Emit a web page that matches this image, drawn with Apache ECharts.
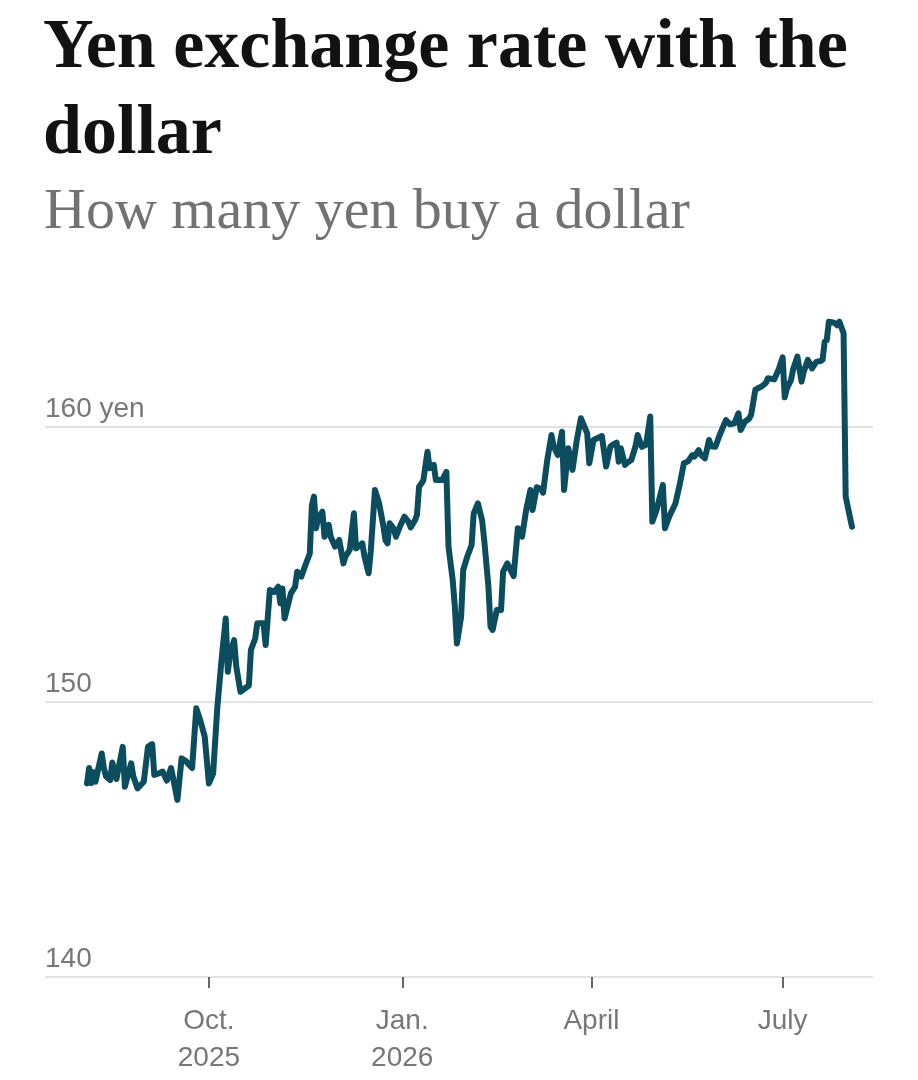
<!DOCTYPE html>
<html>
<head>
<meta charset="utf-8">
<script src="https://cdn.jsdelivr.net/npm/echarts@6/dist/echarts.min.js"></script>
<style>
  html, body { margin: 0; padding: 0; background: #ffffff; }
  #chart { width: 918px; height: 1080px; }
</style>
</head>
<body>
<div id="chart"></div>
<script>
const titleText = 'Yen exchange rate with the\ndollar';
const subtitleText = 'How many yen buy a dollar';

const dates = [
  '2025-08-04','2025-08-05','2025-08-06','2025-08-07','2025-08-08','2025-08-11','2025-08-12','2025-08-13',
  '2025-08-15','2025-08-16','2025-08-18','2025-08-21','2025-08-22','2025-08-25','2025-08-26','2025-08-28',
  '2025-08-31','2025-09-02','2025-09-04','2025-09-05','2025-09-07','2025-09-09','2025-09-11','2025-09-13',
  '2025-09-16','2025-09-18','2025-09-20','2025-09-23','2025-09-25','2025-09-27','2025-09-29','2025-10-01',
  '2025-10-03','2025-10-05','2025-10-07','2025-10-09','2025-10-10','2025-10-11','2025-10-13','2025-10-14',
  '2025-10-16','2025-10-20','2025-10-21','2025-10-23','2025-10-24','2025-10-26','2025-10-27','2025-10-28',
  '2025-10-30','2025-11-01','2025-11-03','2025-11-04','2025-11-05','2025-11-06','2025-11-09','2025-11-11',
  '2025-11-12','2025-11-14','2025-11-16','2025-11-18','2025-11-19','2025-11-20','2025-11-21','2025-11-22',
  '2025-11-24','2025-11-25','2025-11-27','2025-11-28','2025-11-30','2025-12-02','2025-12-04','2025-12-05',
  '2025-12-07','2025-12-09','2025-12-10','2025-12-13','2025-12-14','2025-12-16','2025-12-17','2025-12-19',
  '2025-12-21','2025-12-23','2025-12-24','2025-12-25','2025-12-26','2025-12-28','2025-12-29','2025-12-31',
  '2026-01-02','2026-01-04','2026-01-05','2026-01-07','2026-01-08','2026-01-09','2026-01-11','2026-01-13',
  '2026-01-14','2026-01-16','2026-01-17','2026-01-18','2026-01-20','2026-01-22','2026-01-23','2026-01-25',
  '2026-01-26','2026-01-27','2026-01-29','2026-01-30','2026-02-01','2026-02-03','2026-02-04','2026-02-06',
  '2026-02-08','2026-02-09','2026-02-11','2026-02-12','2026-02-13','2026-02-15','2026-02-17','2026-02-18',
  '2026-02-20','2026-02-23','2026-02-25','2026-02-27','2026-03-01','2026-03-03','2026-03-04','2026-03-06',
  '2026-03-08','2026-03-09','2026-03-11','2026-03-13','2026-03-14','2026-03-16','2026-03-18','2026-03-19',
  '2026-03-21','2026-03-23','2026-03-25','2026-03-27','2026-03-30','2026-03-31','2026-04-02','2026-04-04',
  '2026-04-06','2026-04-08','2026-04-10','2026-04-11','2026-04-13','2026-04-14','2026-04-15','2026-04-17',
  '2026-04-18','2026-04-20','2026-04-22','2026-04-23','2026-04-25','2026-04-27','2026-04-29','2026-04-30',
  '2026-05-02','2026-05-05','2026-05-06','2026-05-08','2026-05-11','2026-05-13','2026-05-15','2026-05-17',
  '2026-05-19','2026-05-20','2026-05-22','2026-05-23','2026-05-25','2026-05-27','2026-05-28','2026-05-30',
  '2026-06-01','2026-06-04','2026-06-06','2026-06-08','2026-06-10','2026-06-11','2026-06-13','2026-06-15',
  '2026-06-16','2026-06-18','2026-06-19','2026-06-21','2026-06-23','2026-06-24','2026-06-26','2026-06-27',
  '2026-06-29','2026-07-01','2026-07-02','2026-07-03','2026-07-05','2026-07-06','2026-07-08','2026-07-10',
  '2026-07-11','2026-07-13','2026-07-14','2026-07-15','2026-07-17','2026-07-19','2026-07-20','2026-07-21',
  '2026-07-22','2026-07-23','2026-07-25','2026-07-26','2026-07-27','2026-07-28','2026-07-30','2026-07-31',
  '2026-08-03'
];

const yen = [
  147.04,147.6,147.05,147.45,147.1,148.13,147.6,147.3,
  147.16,147.8,147.2,148.37,146.92,147.77,147.3,146.86,
  147.1,148.37,148.47,147.35,147.4,147.47,147.14,147.6,
  146.44,147.95,147.85,147.6,149.77,149.3,148.74,147.04,
  147.4,149.8,151.53,153.04,151.1,151.7,152.25,151.3,
  150.37,150.6,151.9,152.3,152.86,152.86,152.86,152.07,
  154.07,154.0,154.19,153.59,154.13,153.04,153.95,154.19,
  154.74,154.56,155.0,155.4,157.16,157.47,156.32,156.7,
  156.92,156.01,156.44,156.0,155.65,155.89,155.04,155.3,
  155.53,156.86,155.59,155.77,155.3,154.68,155.47,157.71,
  157.22,156.4,155.89,155.77,156.5,156.3,156.01,156.4,
  156.74,156.55,156.35,156.6,156.8,157.83,158.05,159.1,
  158.5,158.62,158.07,158.07,158.07,158.37,155.65,154.44,
  153.5,152.13,153.1,154.8,155.3,155.71,156.86,157.22,
  156.6,155.89,154.2,152.74,152.62,153.35,153.35,154.74,
  155.04,154.58,156.32,156.01,157.0,157.71,156.98,157.81,
  157.75,157.61,158.8,159.71,159.3,158.98,159.83,157.71,
  159.23,158.44,159.5,160.32,159.77,158.68,159.53,159.6,
  159.67,158.56,159.28,159.35,159.43,158.74,159.23,158.62,
  158.7,158.8,159.3,159.71,159.28,159.35,160.38,156.56,
  156.98,157.89,156.32,156.74,157.22,157.9,158.68,158.75,
  158.98,158.92,159.16,159.0,158.86,159.53,159.3,159.28,
  159.7,160.25,160.1,160.13,160.5,159.89,160.19,160.3,
  160.44,161.35,161.4,161.47,161.6,161.77,161.75,161.73,
  162.07,162.53,161.08,161.4,161.71,162.1,162.56,161.65,
  162.0,162.44,162.3,162.13,162.37,162.4,162.44,163.1,
  163.16,163.83,163.8,163.77,163.7,163.83,163.41,157.47,
  156.37
];

const tickDates = ['2025-10-01','2026-01-01','2026-04-01','2026-07-01'];
const tickLabels = ['Oct.\n2025','Jan.\n2026','April','July'];
const yTicks = [140, 150, 160];

function toTs(s) {
  const p = s.split('-').map(Number);
  return Date.UTC(p[0], p[1] - 1, p[2]);
}
const tickTs = tickDates.map(toTs);

const chart = echarts.init(document.getElementById('chart'), null, { renderer: 'canvas' });

chart.setOption({
  animation: false,
  backgroundColor: '#ffffff',
  title: [
    {
      text: titleText,
      left: 43,
      top: 6,
      padding: 0,
      textStyle: {
        fontFamily: 'Liberation Serif',
        fontWeight: 'bold',
        fontSize: 70,
        lineHeight: 86,
        color: '#121212'
      }
    },
    {
      text: subtitleText,
      left: 44,
      top: 184,
      padding: 0,
      textStyle: {
        fontFamily: 'Liberation Serif',
        fontWeight: 'normal',
        fontSize: 58,
        lineHeight: 58,
        color: '#727272'
      }
    }
  ],
  grid: {
    left: 45,
    right: 45,
    top: 289.5,
    bottom: 103,
    containLabel: false
  },
  xAxis: {
    type: 'value',
    min: toTs('2025-07-15'),
    max: toTs('2026-08-13'),
    axisLine: { show: false },
    splitLine: { show: false },
    axisTick: {
      show: true,
      customValues: tickTs,
      length: 11,
      lineStyle: { color: '#333333', width: 1.5 }
    },
    axisLabel: {
      show: true,
      customValues: tickTs,
      margin: 26,
      fontFamily: 'Liberation Sans',
      fontSize: 28,
      lineHeight: 37,
      color: '#777777',
      formatter: function (value) {
        const i = tickTs.indexOf(value);
        return i >= 0 ? tickLabels[i] : '';
      }
    }
  },
  yAxis: {
    type: 'value',
    min: 140,
    max: 165,
    interval: 10,
    axisLine: { show: false },
    axisTick: { show: false },
    splitLine: {
      show: true,
      showMaxLine: false,
      lineStyle: { color: '#e2e2e2', width: 2 }
    },
    axisLabel: {
      inside: true,
      margin: 0,
      showMaxLabel: false,
      verticalAlign: 'bottom',
      align: 'left',
      fontFamily: 'Liberation Sans',
      fontSize: 28,
      lineHeight: 36,
      color: '#777777',
      formatter: function (v) {
        if (yTicks.indexOf(v) < 0) return '';
        return v === 160 ? v + ' yen' : String(v);
      }
    }
  },
  series: [
    {
      type: 'line',
      data: dates.map((d, i) => [toTs(d), yen[i]]),
      showSymbol: false,
      symbol: 'none',
      lineStyle: { color: '#0b4d5e', width: 6, join: 'round', cap: 'round' },
      z: 5
    }
  ]
});
</script>
</body>
</html>
